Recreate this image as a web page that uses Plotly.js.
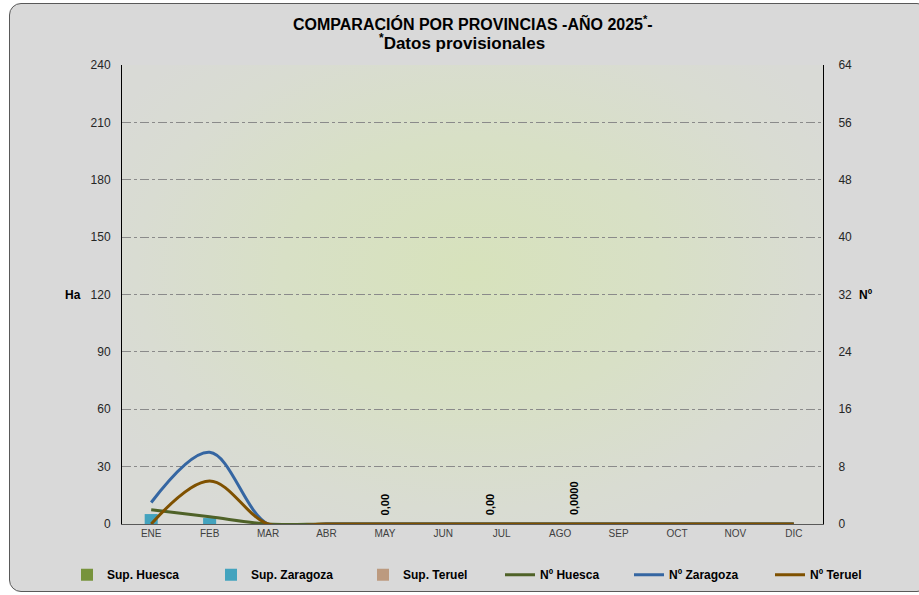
<!DOCTYPE html>
<html>
<head>
<meta charset="utf-8">
<script src="https://cdn.plot.ly/plotly-3.0.1.min.js"></script>
<style>
  html, body { margin: 0; padding: 0; background: #ffffff; }
  #frame { position: absolute; left: 9px; top: 3px; width: 920px; height: 589px;
           background: #d9d9d9; border: 1px solid #595959; border-radius: 12px; box-sizing: border-box; }
  #plotbg { position: absolute; left: 122px; top: 65px; width: 701px; height: 459px;
            background: radial-gradient(ellipse 60% 65% at 50% 45%, #d7e2bc 0%, #d8e0c6 45%, #d9dcd2 80%, #d9dad6 100%); }
  #chart { position: absolute; left: 0; top: 0; width: 919px; height: 595px; }
</style>
</head>
<body>
<div id="frame"></div>
<div id="plotbg"></div>
<div id="chart"></div>
<script>
const months = ["ENE","FEB","MAR","ABR","MAY","JUN","JUL","AGO","SEP","OCT","NOV","DIC"];
const supHuesca   = [0,0,0,0,0,0,0,0,0,0,0,0];
const supZaragoza = [5.2,3.1,0,0,0,0,0,0,0,0,0,0];
const supTeruel   = [0,0,0,0,0,0,0,0,0,0,0,0];
const nHuesca     = [2,1,0,0,0,0,0,0,0,0,0,0];
const nZaragoza   = [3,10,0,0,0,0,0,0,0,0,0,0];
const nTeruel     = [0,6,0,0,0,0,0,0,0,0,0,0];
// data labels shown on some zero bars
const labelMonths = ["MAY","JUL","AGO"];
const labelTexts  = ["0,00","0,00","0,0000"];
const labelOffset = [0,-12,14];

const font = "Liberation Sans, Arial, sans-serif";
const traces = [
  {type:"bar", name:"Sup. Huesca", x:months, y:supHuesca, marker:{color:"#77933c"}, legend:"legend"},
  {type:"bar", name:"Sup. Zaragoza", x:months, y:supZaragoza, marker:{color:"#43a3be"}, legend:"legend2"},
  {type:"bar", name:"Sup. Teruel", x:months, y:supTeruel, marker:{color:"#bc9a7f"}, legend:"legend3"},
  {type:"scatter", mode:"lines", name:"Nº Huesca", x:months, y:nHuesca, yaxis:"y2", legend:"legend4",
   line:{color:"#4f6228", width:3, shape:"spline", smoothing:1}},
  {type:"scatter", mode:"lines", name:"Nº Zaragoza", x:months, y:nZaragoza, yaxis:"y2", legend:"legend5",
   line:{color:"#3566a2", width:3, shape:"spline", smoothing:1}},
  {type:"scatter", mode:"lines", name:"Nº Teruel", x:months, y:nTeruel, yaxis:"y2", legend:"legend6",
   line:{color:"#7f5100", width:3, shape:"spline", smoothing:1}}
];

const annotations = labelMonths.map((m,i)=>({
  x:m, y:0, xref:"x", yref:"y", text:"<b>"+labelTexts[i]+"</b>", showarrow:false,
  textangle:-90, xanchor:"center", yanchor:"bottom", yshift:7, xshift:labelOffset[i],
  font:{family:font, size:11, color:"#000"}
}));
annotations.push({xref:"paper", yref:"paper", x:-0.0556, y:0.5, xanchor:"right", yanchor:"middle",
  text:"<b>Ha</b>", showarrow:false, font:{family:font, size:12, color:"#000"}});
annotations.push({xref:"paper", yref:"paper", x:1.0485, y:0.5, xanchor:"left", yanchor:"middle",
  text:"<b>Nº</b>", showarrow:false, font:{family:font, size:12, color:"#000"}});
annotations.push({xref:"paper", yref:"paper", x:0.5, y:(524-23)/459, xanchor:"center", yanchor:"middle",
  text:"<b>COMPARACIÓN POR PROVINCIAS -AÑO 2025<sup>*</sup>-</b>", showarrow:false,
  font:{family:font, size:16, color:"#000"}});
annotations.push({xref:"paper", yref:"paper", x:(462-122)/701, y:(524-42)/459, xanchor:"center", yanchor:"middle",
  text:"<b><sup>*</sup>Datos provisionales</b>", showarrow:false,
  font:{family:font, size:17, color:"#000"}});

function leg(px){
  return {orientation:"h", x:px/919, xref:"container", xanchor:"left", y:0.034, yref:"container",
          yanchor:"middle", font:{family:font, size:12, color:"#000", weight:"bold"},
          bgcolor:"rgba(0,0,0,0)", itemwidth:30};
}
const legendX = [67, 211, 363, 500, 629, 770];

const layout = {
  width:919, height:595,
  paper_bgcolor:"rgba(0,0,0,0)", plot_bgcolor:"rgba(0,0,0,0)",
  margin:{l:122, r:96, t:65, b:71},
  font:{family:font, size:12, color:"#262626"},
  barmode:"group", bargap:0.33, bargroupgap:0,
  xaxis:{type:"category", showline:true, linecolor:"#595959", linewidth:1, ticks:"",
         tickfont:{size:10, color:"#404040"}, showgrid:false, zeroline:false, fixedrange:true},
  yaxis:{range:[0,240], dtick:30, showline:true, linecolor:"#000", linewidth:1,
         showgrid:true, gridcolor:"#8a8a8a", gridwidth:1, griddash:"dashdot",
         zeroline:false, tickfont:{size:12, color:"#262626"}, ticks:"", ticklabelstandoff:8},
  yaxis2:{range:[0,64], dtick:8, overlaying:"y", side:"right", showline:true, linecolor:"#000",
          linewidth:1, showgrid:false, zeroline:false, ticks:"", ticklabelstandoff:12,
          tickfont:{size:12, color:"#262626"}},
  showlegend:true,
  legend:leg(legendX[0]), legend2:leg(legendX[1]), legend3:leg(legendX[2]),
  legend4:leg(legendX[3]), legend5:leg(legendX[4]), legend6:leg(legendX[5]),
  annotations:annotations
};
Plotly.newPlot("chart", traces, layout, {displayModeBar:false, staticPlot:true});
</script>
</body>
</html>
